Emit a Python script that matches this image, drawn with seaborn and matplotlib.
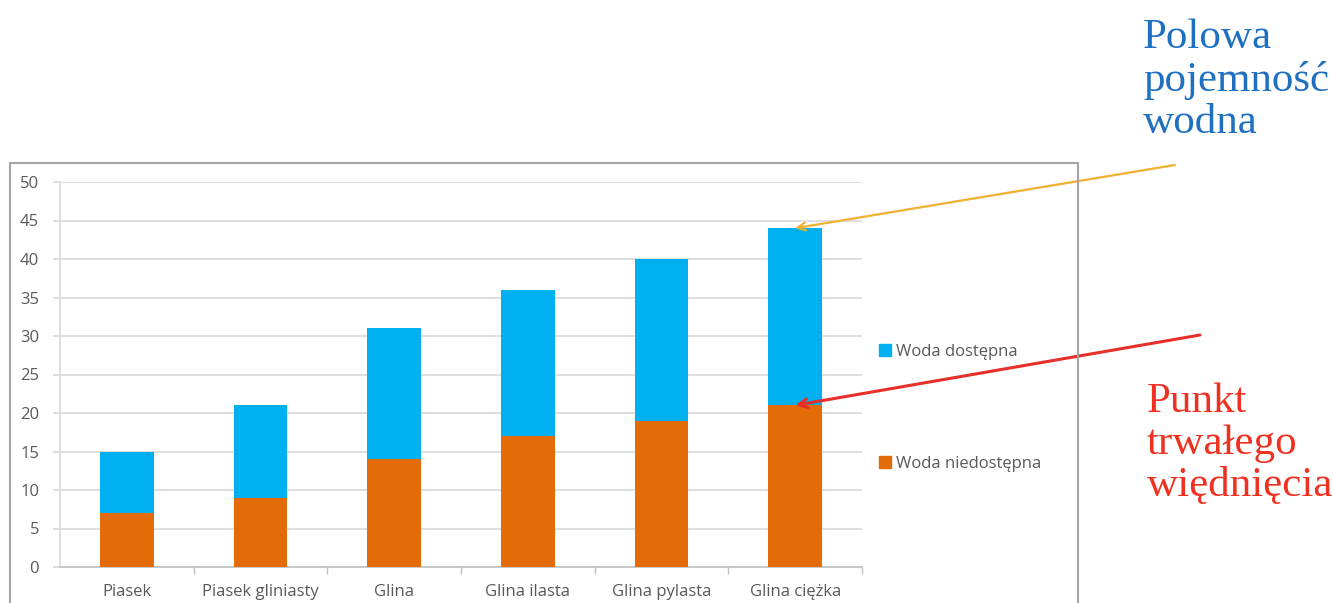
import numpy as np
import pandas as pd
import matplotlib
matplotlib.use("Agg")
import matplotlib.pyplot as plt
import seaborn as sns
from matplotlib.patches import Rectangle
from matplotlib.lines import Line2D
from matplotlib.ticker import FixedLocator

categories = ["Piasek", "Piasek gliniasty", "Glina", "Glina ilasta", "Glina pylasta", "Glina ciężka"]
woda_niedostepna = [7, 9, 14, 17, 19, 21]
woda_dostepna = [8, 12, 17, 19, 21, 23]
yticks = [0, 5, 10, 15, 20, 25, 30, 35, 40, 45, 50]

BLUE = "#00B0F0"
ORANGE = "#E36C09"
GRID = "#D9D9D9"
TXT = "#595959"

sns.set_theme(style="white")
plt.rcParams["font.family"] = ["Open Sans", "DejaVu Sans"]

df = pd.DataFrame({
    "kat": categories,
    "niedostepna": woda_niedostepna,
    "dostepna": woda_dostepna,
})
df["total"] = df["niedostepna"] + df["dostepna"]

fig = plt.figure(figsize=(13.33, 6.03), dpi=100)
ax = fig.add_axes([60 / 1333, 1 - 567 / 603, (862 - 60) / 1333, (567 - 182) / 603])

sns.barplot(data=df, x="kat", y="total", color=BLUE, width=0.4, ax=ax,
            saturation=1, linewidth=0, zorder=3)
sns.barplot(data=df, x="kat", y="niedostepna", color=ORANGE, width=0.4, ax=ax,
            saturation=1, linewidth=0, zorder=3)

ax.set_ylim(0, 50)
ax.set_xlim(-0.5, len(categories) - 0.5)
ax.set_yticks(yticks)
ax.set_xlabel("")
ax.set_ylabel("")
ax.yaxis.grid(True, color=GRID, linewidth=1.2, zorder=0)
ax.set_axisbelow(True)
for s in ["top", "right"]:
    ax.spines[s].set_visible(False)
ax.spines["left"].set_color(GRID)
ax.spines["bottom"].set_color("#BFBFBF")
ax.spines["left"].set_linewidth(1.2)
ax.spines["bottom"].set_linewidth(1.2)
ax.tick_params(axis="y", left=True, length=5, color=GRID, labelsize=12, labelcolor=TXT, pad=10)
ax.tick_params(axis="x", bottom=False, labelsize=12, labelcolor=TXT, pad=6)
ax.xaxis.set_minor_locator(FixedLocator(np.arange(0.5, len(categories), 1.0)))
ax.tick_params(axis="x", which="minor", bottom=True, length=5, color="#BFBFBF", direction="out")

handles = [
    Line2D([], [], marker="s", linestyle="", color=BLUE, markersize=8),
    Line2D([], [], marker="s", linestyle="", color=ORANGE, markersize=8),
]
leg = ax.legend(handles, ["Woda dostępna", "Woda niedostępna"],
                loc="upper left", bbox_to_anchor=(878 / 1333, 1 - 344 / 603),
                bbox_transform=fig.transFigure, frameon=False, fontsize=12,
                labelspacing=5.75, handlelength=0.8, handletextpad=0.3,
                borderaxespad=0, borderpad=0)
for t in leg.get_texts():
    t.set_color(TXT)

# outer chart frame
fig.patches.append(Rectangle((10 / 1333, -0.05), (1078 - 10) / 1333, 0.05 + 1 - 163 / 603,
                             transform=fig.transFigure, fill=False,
                             edgecolor="#A6A6A6", linewidth=1.5))

# annotations
idx = len(categories) - 1
ax.annotate("", xy=(idx, df["total"].iloc[idx]), xycoords="data",
            xytext=(1175 / 1333, 1 - 165 / 603), textcoords="figure fraction",
            arrowprops=dict(arrowstyle="->", color="#F0B030", lw=1.6,
                            mutation_scale=14, shrinkA=0, shrinkB=0),
            annotation_clip=False)
ax.annotate("", xy=(idx, df["niedostepna"].iloc[idx]), xycoords="data",
            xytext=(1200 / 1333, 1 - 335 / 603), textcoords="figure fraction",
            arrowprops=dict(arrowstyle="->", color="#E8302A", lw=2.2,
                            mutation_scale=16, shrinkA=0, shrinkB=0),
            annotation_clip=False)

fig.text(1143 / 1333, 1 - 19 / 603, "Polowa\npojemność\nwodna", ha="left", va="top",
         fontsize=31, color="#1F70C1", family="Liberation Serif", linespacing=1.12)
fig.text(1147 / 1333, 1 - 382 / 603, "Punkt\ntrwałego\nwiędnięcia", ha="left", va="top",
         fontsize=31, color="#F03020", family="Liberation Serif", linespacing=1.12)

fig.savefig("out.png", dpi=100, facecolor="white")
